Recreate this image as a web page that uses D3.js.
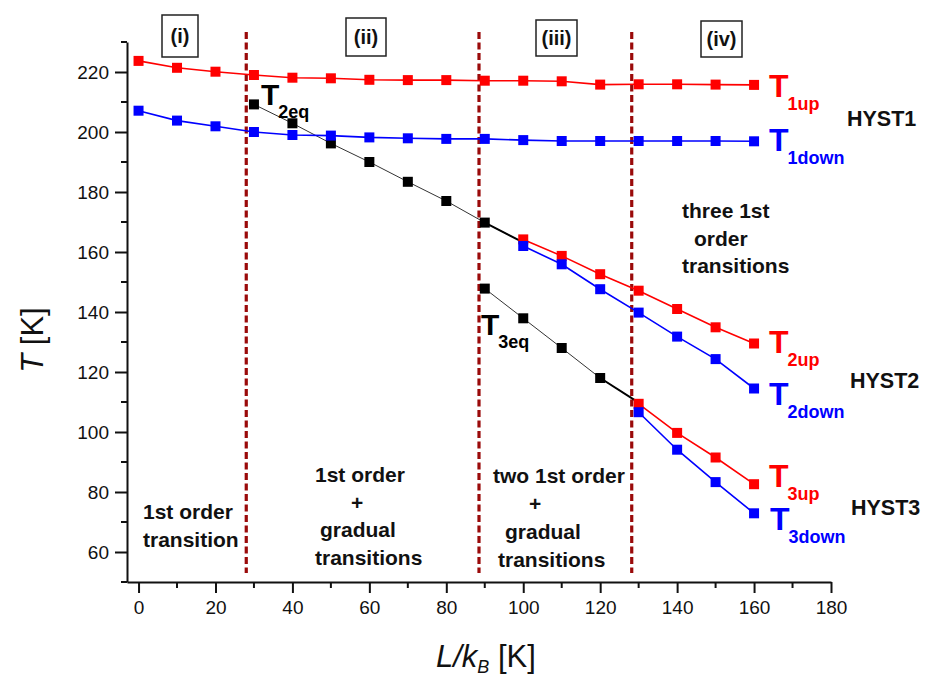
<!DOCTYPE html>
<html>
<head>
<meta charset="utf-8">
<script src="https://cdn.jsdelivr.net/npm/d3@7/dist/d3.min.js"></script>
<style>
  html, body { margin: 0; padding: 0; background: #fff; }
  svg { display: block; font-family: "Liberation Sans", Arial, sans-serif; }
</style>
</head>
<body>
<svg id="chart" width="925" height="679"></svg>
<script>
// --- data ---
const xHyst1 = [0, 10, 20, 30, 40, 50, 60, 70, 80, 90, 100, 110, 120, 130, 140, 150, 160];
const T1up   = [223.7, 221.4, 220.1, 219.0, 218.1, 217.9, 217.4, 217.3, 217.3, 217.1, 217.1, 216.9, 215.8, 215.9, 215.9, 215.8, 215.7];
const T1down = [207.1, 203.8, 201.9, 200.0, 199.0, 198.8, 198.2, 197.9, 197.7, 197.7, 197.3, 197.0, 197.0, 197.0, 197.0, 197.0, 196.9];

const xT2eq = [30, 40, 50, 60, 70, 80, 90, 100];
const T2eq  = [209.2, 202.9, 196.2, 190.0, 183.4, 177.0, 169.8, 163.2];
const xHyst2 = [100, 110, 120, 130, 140, 150, 160];
const T2up   = [164.2, 158.7, 152.6, 147.1, 141.0, 134.9, 129.5];
const T2down = [162.0, 155.9, 147.6, 139.8, 131.8, 124.3, 114.5];

const xT3eq = [90, 100, 110, 120, 130];
const T3eq  = [147.8, 137.9, 128.0, 118.0, 109.8];
const xHyst3 = [130, 140, 150, 160];
const T3up   = [109.4, 99.7, 91.5, 82.6];
const T3down = [106.6, 94.1, 83.3, 72.9];

const dividers = [28, 88.5, 128.2];
const xMajor = [0, 20, 40, 60, 80, 100, 120, 140, 160, 180];
const xMinor = [10, 30, 50, 70, 90, 110, 130, 150, 170];
const yMajor = [60, 80, 100, 120, 140, 160, 180, 200, 220];
const yMinor = [50, 70, 90, 110, 130, 150, 170, 190, 210, 230];

const RED = "#ff0000", BLUE = "#0000ff", DARKRED = "#9a0a0a";

const svg = d3.select("#chart");
const x = d3.scaleLinear().domain([-3, 180]).range([127, 831]);
const y = d3.scaleLinear().domain([50, 230]).range([582, 42]);

// dashed region dividers
svg.append("g").selectAll("line")
  .data(dividers)
  .join("line")
  .attr("x1", d => x(d)).attr("x2", d => x(d))
  .attr("y1", y(233.3)).attr("y2", y(53))
  .attr("stroke", DARKRED)
  .attr("stroke-width", 3.2)
  .attr("stroke-dasharray", "7,3.5");

// axes
function styleAxis(g) {
  g.selectAll("path, line").attr("stroke", "#111").attr("stroke-width", 2);
  g.selectAll("text").attr("font-size", 19).attr("fill", "#111")
    .attr("font-family", "'Liberation Sans', Arial, sans-serif");
}
const gx = svg.append("g").attr("transform", `translate(0,${y(50)})`)
  .call(d3.axisBottom(x).tickValues(xMajor).tickSize(11).tickSizeOuter(0).tickPadding(8));
gx.call(styleAxis);
gx.selectAll(".minor").data(xMinor).join("line").attr("class", "minor")
  .attr("x1", d => x(d)).attr("x2", d => x(d)).attr("y1", 0).attr("y2", 6)
  .attr("stroke", "#111").attr("stroke-width", 2);

const gy = svg.append("g").attr("transform", `translate(${x(-3)},0)`)
  .call(d3.axisLeft(y).tickValues(yMajor).tickSize(12).tickSizeOuter(0).tickPadding(6));
gy.call(styleAxis);
gy.selectAll(".minor").data(yMinor).join("line").attr("class", "minor")
  .attr("y1", d => y(d)).attr("y2", d => y(d)).attr("x1", 0).attr("x2", -6)
  .attr("stroke", "#111").attr("stroke-width", 2);
gy.selectAll(".tick text").attr("dy", "0.36em");

// axis titles
svg.append("text")
  .attr("transform", "translate(43,340) rotate(-90)")
  .attr("text-anchor", "middle")
  .attr("font-size", 31).attr("fill", "#111")
  .call(t => {
    t.append("tspan").attr("font-style", "italic").text("T");
    t.append("tspan").text(" [K]");
  });
svg.append("text")
  .attr("x", 436).attr("y", 667)
  .attr("font-size", 31).attr("fill", "#111")
  .call(t => {
    t.append("tspan").attr("font-style", "italic").text("L/k");
    t.append("tspan").attr("font-style", "italic").attr("font-size", 18).attr("dy", 6).text("B");
    t.append("tspan").attr("dy", -6).text(" [K]");
  });

// series
const line = d3.line().x(d => x(d[0])).y(d => y(d[1]));
const zip = (xs, ys) => xs.map((v, i) => [v, ys[i]]);

function drawSeries(pts, color, width, markers) {
  svg.append("path").datum(pts).attr("d", line)
    .attr("fill", "none").attr("stroke", color).attr("stroke-width", width);
  svg.append("g").selectAll("rect").data(markers).join("rect")
    .attr("x", d => x(d[0]) - 5).attr("y", d => y(d[1]) - 5)
    .attr("width", 10).attr("height", 10).attr("fill", color);
}
function drawEq(pts) {
  // equilibrium line: thin, last segment joins the hysteresis branches
  svg.append("path").datum(pts).attr("d", line)
    .attr("fill", "none").attr("stroke", "#333").attr("stroke-width", 1);
  svg.append("path").datum(pts.slice(-2)).attr("d", line)
    .attr("fill", "none").attr("stroke", "#000").attr("stroke-width", 2);
  svg.append("g").selectAll("rect").data(pts.slice(0, -1)).join("rect")
    .attr("x", d => x(d[0]) - 5).attr("y", d => y(d[1]) - 5)
    .attr("width", 10).attr("height", 10).attr("fill", "#000");
}

drawEq(zip(xT2eq, T2eq));
drawEq(zip(xT3eq, T3eq));
[[xHyst1, T1up], [xHyst2, T2up], [xHyst3, T3up]].forEach(([xs, ys]) => {
  const p = zip(xs, ys); drawSeries(p, RED, 1.6, p);
});
[[xHyst1, T1down], [xHyst2, T2down], [xHyst3, T3down]].forEach(([xs, ys]) => {
  const p = zip(xs, ys); drawSeries(p, BLUE, 1.6, p);
});

// series labels (T with subscript)
const seriesLabels = [
  { sub: "1up", color: RED, x: 769, y: 97 },
  { sub: "1down", color: BLUE, x: 769, y: 151 },
  { sub: "2up", color: RED, x: 769, y: 353 },
  { sub: "2down", color: BLUE, x: 769, y: 405 },
  { sub: "3up", color: RED, x: 769, y: 487 },
  { sub: "3down", color: BLUE, x: 770, y: 530 },
  { sub: "2eq", color: "#000", x: 261, y: 105, big: 30 },
  { sub: "3eq", color: "#000", x: 481, y: 335, big: 30 }
];
seriesLabels.forEach(l => {
  svg.append("text").attr("x", l.x).attr("y", l.y)
    .attr("fill", l.color).attr("font-weight", "bold")
    .call(t => {
      t.append("tspan").attr("font-size", l.big || 32).text("T");
      t.append("tspan").attr("font-size", 18).attr("dy", 13).attr("dx", -1).text(l.sub);
    });
});

// hysteresis group names
[["HYST1", 847, 126], ["HYST2", 850, 388], ["HYST3", 851, 515]].forEach(([s, px, py]) => {
  svg.append("text").attr("x", px).attr("y", py)
    .attr("font-size", 21.5).attr("font-weight", "bold").attr("fill", "#111").text(s);
});

// region boxes
const boxes = [
  { label: "(i)", x0: 162, x1: 198, y0: 15, y1: 57 },
  { label: "(ii)", x0: 346, x1: 386, y0: 18, y1: 56 },
  { label: "(iii)", x0: 536, x1: 577, y0: 20, y1: 56 },
  { label: "(iv)", x0: 701, x1: 742, y0: 21, y1: 57 }
];
boxes.forEach(b => {
  svg.append("rect").attr("x", b.x0).attr("y", b.y0)
    .attr("width", b.x1 - b.x0).attr("height", b.y1 - b.y0)
    .attr("fill", "#fff").attr("stroke", "#222").attr("stroke-width", 1.5);
  svg.append("text").attr("x", (b.x0 + b.x1) / 2).attr("y", (b.y0 + b.y1) / 2 + 7)
    .attr("text-anchor", "middle").attr("font-size", 20).attr("font-weight", "bold")
    .attr("fill", "#111").text(b.label);
});

// region descriptions
const notes = [
  ["1st order", 143, 519], ["transition", 143, 547],
  ["1st order", 315, 482], ["+", 351, 510], ["gradual", 320, 537], ["transitions", 315, 565],
  ["two 1st order", 493, 483], ["+", 529, 511], ["gradual", 505, 539], ["transitions", 498, 567],
  ["three 1st", 682, 218], ["order", 694, 246], ["transitions", 682, 273]
];
svg.append("g").selectAll("text").data(notes).join("text")
  .attr("x", d => d[1]).attr("y", d => d[2])
  .attr("font-size", 21).attr("font-weight", "bold").attr("fill", "#111")
  .text(d => d[0]);
</script>
</body>
</html>
